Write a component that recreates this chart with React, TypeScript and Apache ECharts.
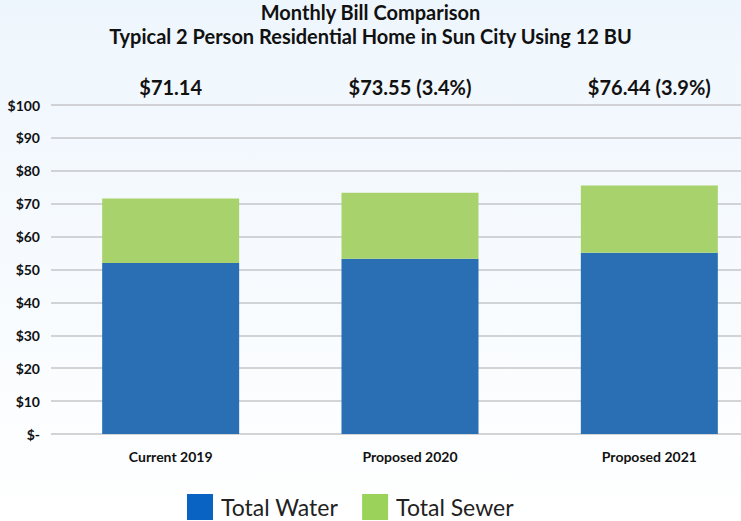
import React, { useEffect, useRef } from "react";
import * as echarts from "echarts";

const categories = ["Current 2019", "Proposed 2020", "Proposed 2021"];
const totalLabels = ["$71.14", "$73.55 (3.4%)", "$76.44 (3.9%)"];
const waterValues = [52.0, 53.3, 55.1];
const sewerValues = [19.6, 20.0, 20.4];
const titleLines = ["Monthly Bill Comparison", "Typical 2 Person Residential Home in Sun City Using 12 BU"];

const FONT = "Lato, 'Open Sans', sans-serif";

export default function App() {
  const ref = useRef<HTMLDivElement>(null);
  useEffect(() => {
    document.body.style.margin = "0";
    const chart = echarts.init(ref.current!, null, { renderer: "svg" });
    chart.setOption({
      animation: false,
      backgroundColor: {
        type: "linear", x: 0, y: 0, x2: 0, y2: 1,
        colorStops: [
          { offset: 0, color: "#eef6fd" },
          { offset: 1, color: "#ffffff" },
        ],
      },
      title: {
        text: titleLines.join("\n"),
        left: "center",
        top: 0,
        padding: [0, 0, 0, 0],
        textStyle: { fontFamily: FONT, fontSize: 20, fontWeight: "bold", color: "#111", lineHeight: 24 },
      },
      legend: {
        top: 494,
        left: 187,
        padding: 0,
        itemWidth: 26,
        itemHeight: 26,
        itemGap: 24,
        icon: "rect",
        textStyle: { fontFamily: FONT, fontSize: 23, lineHeight: 22, color: "#222", padding: [0, 0, 0, 3] },
        data: [
          { name: "Total Water", itemStyle: { color: "#0863c2" } },
          { name: "Total Sewer", itemStyle: { color: "#9bd35a" } },
        ],
      },
      grid: { left: 51, top: 105, height: 329, width: 718, outerBoundsMode: "none", containLabel: false },
      xAxis: [
        {
          type: "category",
          data: categories,
          axisLine: { show: false },
          axisTick: { show: false },
          axisLabel: { fontFamily: FONT, fontSize: 14, fontWeight: "bold", color: "#111", margin: 15 },
        },
        {
          type: "category",
          position: "top",
          data: totalLabels,
          axisLine: { show: false },
          axisTick: { show: false },
          axisLabel: { fontFamily: FONT, fontSize: 20, fontWeight: "bold", color: "#111", margin: 8 },
        },
      ],
      yAxis: {
        type: "value",
        min: 0,
        max: 100,
        interval: 10,
        axisLine: { show: false },
        axisTick: { show: false },
        splitLine: { lineStyle: { color: "#c4c6c9", width: 1.5 } },
        axisLabel: {
          fontFamily: FONT,
          fontSize: 14,
          fontWeight: "bold",
          color: "#111",
          margin: 11,
          formatter: (v: number) => (v === 0 ? "$-" : "$" + v),
        },
      },
      series: [
        {
          name: "Total Water",
          type: "bar",
          stack: "total",
          barWidth: 137,
          data: waterValues,
          itemStyle: { color: "#2a6eb4" },
        },
        {
          name: "Total Sewer",
          type: "bar",
          stack: "total",
          barWidth: 137,
          data: sewerValues,
          itemStyle: { color: "#a8d36c" },
        },
      ],
    });
    return () => chart.dispose();
  }, []);
  return <div ref={ref} style={{ width: 741, height: 521 }} />;
}
